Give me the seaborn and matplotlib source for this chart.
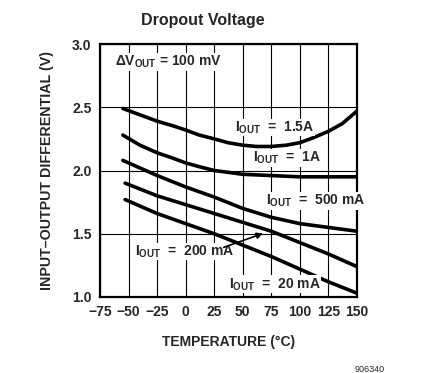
import pandas as pd
import matplotlib
matplotlib.use("Agg")
import matplotlib.pyplot as plt
import seaborn as sns

# temperatures (deg C) and dropout voltage
temp_15a = [-55, -40, -25, -10, 0, 12, 25, 37, 50, 62, 75, 88, 100, 112, 125, 137, 150]
v_15a = [2.49, 2.44, 2.39, 2.35, 2.32, 2.28, 2.25, 2.22, 2.20, 2.19, 2.19, 2.20, 2.22, 2.26, 2.31, 2.37, 2.47]

temp_1a = [-55, -40, -25, -12, 0, 12, 25, 50, 75, 100, 125, 150]
v_1a = [2.28, 2.20, 2.14, 2.10, 2.06, 2.03, 2.00, 1.97, 1.96, 1.95, 1.95, 1.95]

temp_500 = [-55, -25, 0, 25, 50, 75, 100, 125, 150]
v_500 = [2.08, 1.96, 1.87, 1.79, 1.70, 1.63, 1.58, 1.55, 1.52]

temp_200 = [-53, -25, 0, 25, 50, 75, 100, 125, 150]
v_200 = [1.90, 1.80, 1.73, 1.66, 1.59, 1.52, 1.43, 1.34, 1.24]

temp_20 = [-53, -25, 0, 25, 50, 75, 100, 125, 150]
v_20 = [1.77, 1.66, 1.58, 1.50, 1.41, 1.32, 1.22, 1.12, 1.03]

x_ticks = [-75, -50, -25, 0, 25, 50, 75, 100, 125, 150]
y_ticks = [1.0, 1.5, 2.0, 2.5, 3.0]

curves = [
    ("1.5A", temp_15a, v_15a),
    ("1A", temp_1a, v_1a),
    ("500 mA", temp_500, v_500),
    ("200 mA", temp_200, v_200),
    ("20 mA", temp_20, v_20),
]

rows = []
for name, ts, vs in curves:
    for t, v in zip(ts, vs):
        rows.append({"Temp": t, "Volt": v, "Iout": name})
df = pd.DataFrame(rows)

sns.set_style("white")
plt.rcParams["font.family"] = ["Liberation Sans", "DejaVu Sans"]
plt.rcParams["font.weight"] = "bold"
plt.rcParams["mathtext.fontset"] = "custom"
plt.rcParams["mathtext.rm"] = "Liberation Sans:bold"
plt.rcParams["mathtext.bf"] = "Liberation Sans:bold"
plt.rcParams["mathtext.it"] = "Liberation Sans:bold"

fig = plt.figure(figsize=(4.22, 3.73), dpi=100)
ax = fig.add_axes([100 / 422, 76 / 373, 257 / 422, 253 / 373])

for name, _, _ in curves:
    sns.lineplot(data=df[df["Iout"] == name], x="Temp", y="Volt",
                 color="black", linewidth=2.6, ax=ax, legend=False)

ax.set_xlim(-75, 150)
ax.set_ylim(1.0, 3.0)
ax.set_xticks(x_ticks)
ax.set_yticks(y_ticks)
ax.set_xticklabels([str(t).replace("-", "\u2212") for t in x_ticks], fontsize=10, fontweight="bold")
ax.set_yticklabels(["%.1f" % v for v in y_ticks], fontsize=10, fontweight="bold")
ax.tick_params(length=0, pad=6)
ax.grid(True, color="black", linewidth=0.8)
for s in ax.spines.values():
    s.set_color("black")
    s.set_linewidth(1.6)

ax.set_xlabel("TEMPERATURE (°C)", fontsize=10, fontweight="bold", labelpad=11)
ax.set_ylabel("INPUT\u2013OUTPUT DIFFERENTIAL (V)", fontsize=10.3, fontweight="bold", labelpad=13)

box = dict(facecolor="white", edgecolor="none", pad=0.5)
lbl = dict(fontsize=10, fontweight="bold", va="center", ha="left", bbox=box)
ax.text(-62, 2.86, r"$\Delta \mathrm{V}_{\mathrm{OUT}}$ = 100 mV", **lbl)
ax.text(43, 2.34, r"$\mathrm{I}_{\mathrm{OUT}}$  =  1.5A", **lbl)
ax.text(59, 2.10, r"$\mathrm{I}_{\mathrm{OUT}}$  =  1A", **lbl)
ax.text(70, 1.76, r"$\mathrm{I}_{\mathrm{OUT}}$  =  500 mA", **lbl)
ax.text(-44, 1.36, r"$\mathrm{I}_{\mathrm{OUT}}$  =  200 mA", **lbl)
ax.text(38, 1.10, r"$\mathrm{I}_{\mathrm{OUT}}$  =  20 mA", **lbl)
ax.annotate("", xy=(70, 1.51), xytext=(31, 1.385),
            arrowprops=dict(arrowstyle="-|>", color="black", lw=1.2, mutation_scale=9))

fig.text(203 / 422, 1 - 20 / 373, "Dropout Voltage", fontsize=11.5, fontweight="bold",
         ha="center", va="center")
fig.text(370 / 422, 1 - 370 / 373, "906340", fontsize=6.5, fontweight="normal",
         ha="center", va="center")

fig.savefig("out.png", dpi=100)
